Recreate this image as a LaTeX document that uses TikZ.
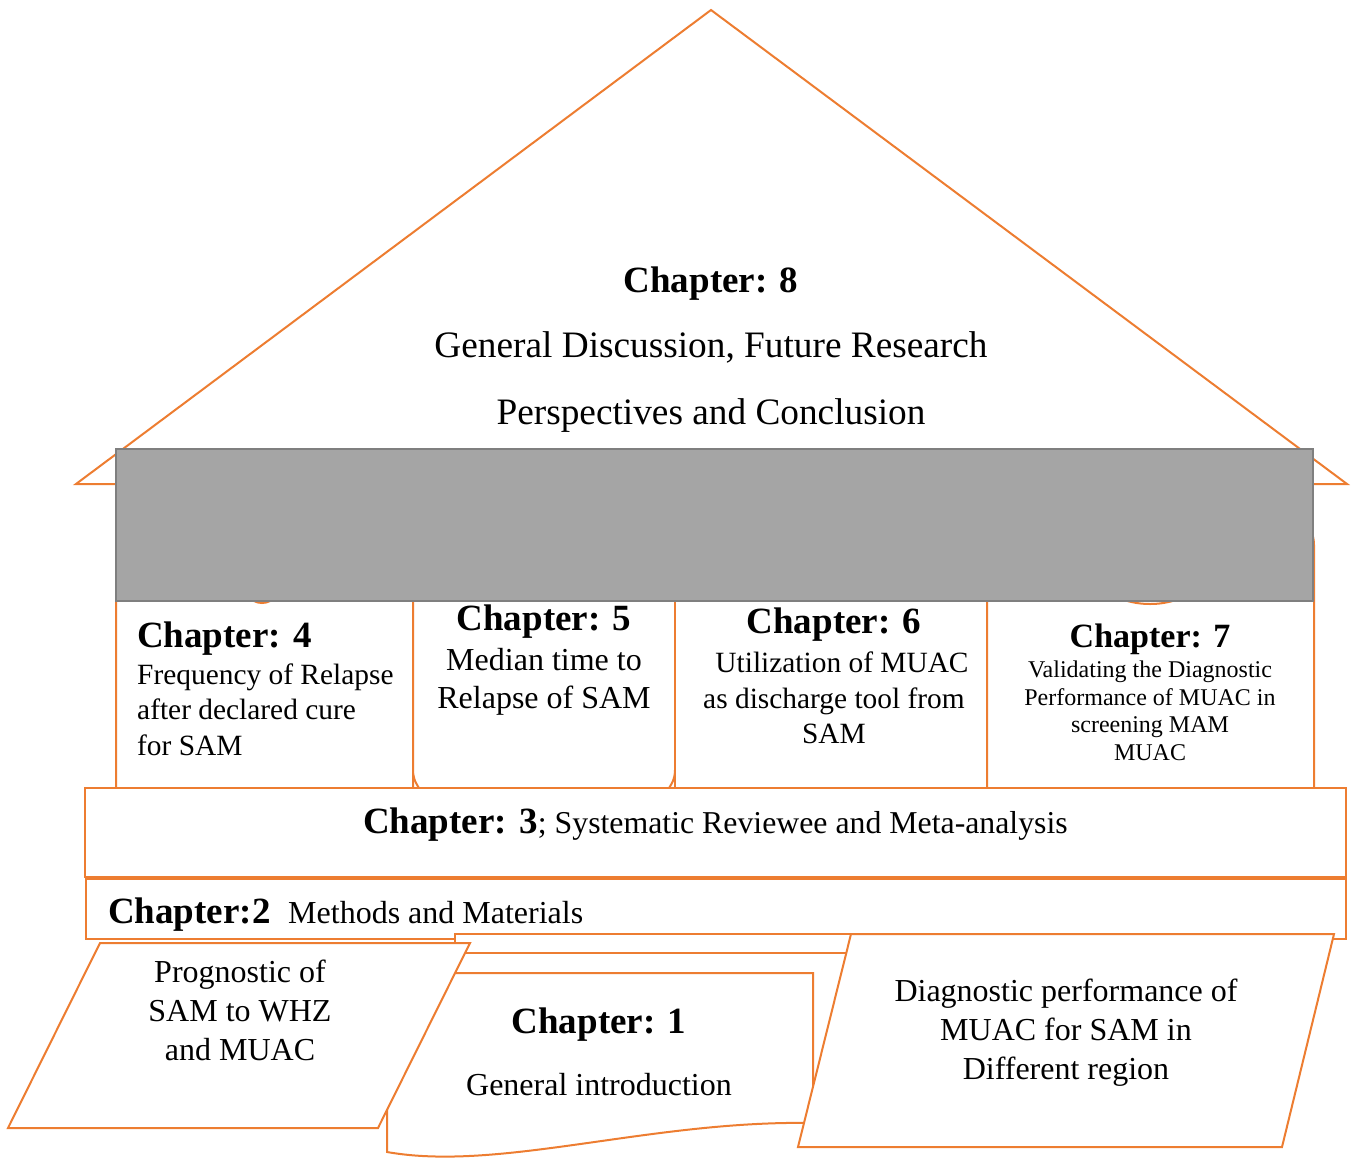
\documentclass[tikz,border=0pt]{standalone}
\usepackage{fontspec}
\setmainfont{Liberation Serif}
\definecolor{orng}{HTML}{ED7D31}
\definecolor{beam}{HTML}{A5A5A5}
\definecolor{beamedge}{HTML}{7F7F7F}
\begin{document}
\begin{tikzpicture}[x=1pt,y=-1pt,
  ol/.style={draw=orng, line width=2, fill=white},
  hd/.style={font=\fontsize{37}{40}\selectfont\bfseries, inner sep=0, anchor=base},
  hdw/.style={hd, anchor=base west},
  bd/.style={font=\fontsize{29.4}{34}\selectfont, inner sep=0, anchor=base},
  bdw/.style={bd, anchor=base west},
  bdl/.style={font=\fontsize{32}{36}\selectfont, inner sep=0, anchor=base},
  big/.style={font=\fontsize{37.3}{40}\selectfont, inner sep=0, anchor=base},
  mid/.style={font=\fontsize{32}{36}\selectfont, inner sep=0, anchor=base},
  sml/.style={font=\fontsize{24}{28}\selectfont, inner sep=0, anchor=base}]
\useasboundingbox (0,0) rectangle (1351,1159);
% roof
\draw[ol] (76,484) -- (711,10) -- (1347,484) -- cycle;
% pillars
\draw[ol] (116,788) {[rounded corners=30] -- (116,515) -- (413,515)} -- (413,788) -- cycle;
\draw[draw=orng, line width=2] (262,575) ellipse (22 and 28);
\draw[ol, rounded corners=30] (413,520) rectangle (675,800);
\draw[ol] (675,560) rectangle (987,788);
\draw[ol] (987,788) {[rounded corners=35] -- (987,510) -- (1314,510)} -- (1314,788) -- cycle;
\draw[draw=orng, line width=2] (1150,560) ellipse (62 and 44);
% beam
\draw[fill=beam, draw=beamedge, line width=2.5] (116,449) rectangle (1313,601);
% floors
\draw[ol] (85,788) rectangle (1346,877);
\draw[ol] (86,879) rectangle (1346,939);
% chapter 1 documents
\draw[ol] (455,934) rectangle (880,1100);
\draw[ol] (421,953) rectangle (846,1120);
\draw[ol] (387,1152) -- (387,973) -- (813,973) -- (813,1123)
  .. controls (650,1120) and (500,1172) .. (387,1152) -- cycle;
% parallelograms
\draw[ol] (8,1128) -- (100,943) -- (470,943) -- (378,1128) -- cycle;
\draw[ol] (798,1147) -- (851,934) -- (1334,934) -- (1282,1147) -- cycle;

% texts
\node[hd] (c8h) at (711,292) {Chapter: 8};
\node[big] (c8a) at (711,357) {General Discussion, Future Research};
\node[big] (c8b) at (711,424) {Perspectives and Conclusion};

\node[hdw] (c4h) at (137,647) {Chapter: 4};
\node[bdw] (c4a) at (137,684) {Frequency of Relapse};
\node[bdw] (c4b) at (137,719) {after declared cure};
\node[bdw] (c4c) at (137,755) {for SAM};

\node[hd] (c5h) at (544,630) {Chapter: 5};
\node[bdl] (c5a) at (544,670) {Median time to};
\node[bdl] (c5b) at (544,708) {Relapse of SAM};

\node[hd] (c6h) at (834,633) {Chapter: 6};
\node[bd] (c6a) at (842,672) {Utilization of MUAC};
\node[bd] (c6b) at (834,708) {as discharge tool from};
\node[bd] (c6c) at (834,743) {SAM};

\node[hd, font=\fontsize{34}{38}\selectfont\bfseries] (c7h) at (1150,647) {Chapter: 7};
\node[sml] (c7a) at (1150,677) {Validating the Diagnostic};
\node[sml] (c7b) at (1150,705) {Performance of MUAC in};
\node[sml] (c7c) at (1150,732) {screening MAM};
\node[sml] (c7d) at (1150,760) {MUAC};

\node[hdw] (c3) at (363,833) {Chapter: 3\fontsize{31.8}{36}\selectfont\mdseries; Systematic Reviewee and Meta-analysis};

\node[hdw] (c2h) at (108,923) {Chapter:2};
\node[bdw, font=\fontsize{32}{36}\selectfont] (c2a) at (288,923) {Methods and Materials};

\node[mid] (pa) at (240,982) {Prognostic of};
\node[mid] (pb) at (240,1021) {SAM to WHZ};
\node[mid] (pc) at (240,1060) {and MUAC};

\node[hd] (c1h) at (599,1033) {Chapter: 1};
\node[mid] (c1a) at (599,1095) {General introduction};

\node[mid] (da) at (1066,1001) {Diagnostic performance of};
\node[mid] (db) at (1066,1040) {MUAC for SAM in};
\node[mid] (dc) at (1066,1079) {Different region};
\end{tikzpicture}
\end{document}
